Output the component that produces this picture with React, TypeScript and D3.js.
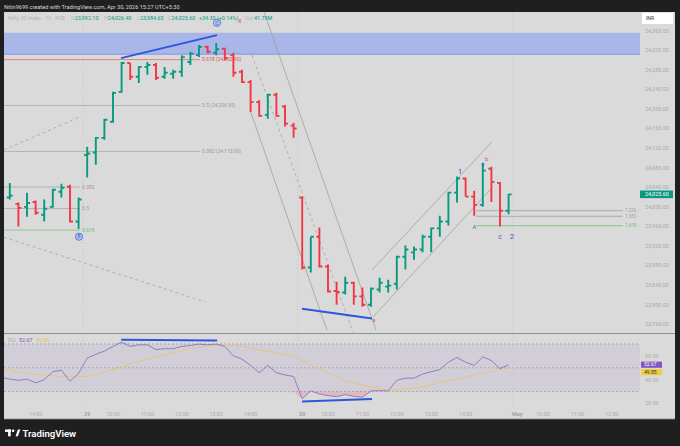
import React from 'react';
import * as d3 from 'd3';

// 15m bars, Apr 28 13:00 -> Apr 30 15:15 (k = 0..59)
const opens = [24008, 24019, 24006, 24000, 24010, 23984, 24000, 24031, 24041, 23970,
  24106, 24111, 24141, 24174, 24235, 24294, 24266, 24286, 24290, 24266,
  24272, 24276, 24296, 24310, 24327, 24315, 24323, 24310, 24276, 24255,
  24214, 24188, 24229, 24205, 24166, 24019, 23876, 23939, 23878, 23828,
  23825, 23845, 23817, 23800, 23831, 23837, 23843, 23898, 23907, 23913,
  23939, 23956, 23970, 24029, 24058, 24021, 24004, 24078, 24049, 23992.1];
const highs = [24026, 24049, 24009, 24029, 24013, 24015, 24037, 24047, 24045, 24019,
  24123, 24143, 24180, 24235, 24296, 24294, 24288, 24296, 24294, 24286,
  24280, 24310, 24317, 24331, 24329, 24335, 24325, 24315, 24280, 24259,
  24218, 24231, 24233, 24208, 24172, 24021, 23939, 23958, 23882, 23847,
  23857, 23847, 23835, 23835, 23855, 23851, 23900, 23921, 23919, 23943,
  23958, 23982, 24031, 24062, 24060, 24033, 24090, 24082, 24051, 24026.4];
const lows = [24002, 24015, 23960, 23980, 23984, 23970, 23998, 24019, 23968, 23955,
  24060, 24086, 24137, 24172, 24233, 24259, 24253, 24270, 24259, 24262,
  24262, 24266, 24290, 24306, 24314, 24310, 24300, 24266, 24253, 24194,
  24184, 24180, 24184, 24164, 24141, 23872, 23866, 23876, 23825, 23800,
  23821, 23800, 23796, 23796, 23825, 23825, 23831, 23872, 23892, 23907,
  23907, 23939, 23962, 24009, 24021, 23982, 24000, 24010, 23960, 23984.65];
const closes = [24019, 24023, 23998, 24008, 23988, 23996, 24035, 24039, 23970, 24015,
  24109, 24141, 24178, 24233, 24294, 24266, 24286, 24290, 24264, 24274,
  24276, 24306, 24313, 24327, 24317, 24322, 24304, 24274, 24255, 24214,
  24186, 24229, 24186, 24170, 24160, 23876, 23939, 23878, 23827, 23826,
  23845, 23817, 23800, 23833, 23845, 23839, 23898, 23913, 23913, 23939,
  23956, 23970, 24029, 24058, 24021, 24004, 24074, 24051, 23992, 24025.6];

const rsi = [42, 40.5, 39.5, 40.5, 37.3, 40, 46.7, 48, 38.7, 45.3,
  58.2, 61.3, 64, 68, 71.5, 68, 69.3, 69.3, 65.3, 66.1,
  66, 68, 68.8, 69.9, 69.3, 69.9, 68, 60, 57.3, 52,
  45.9, 52, 45.9, 44, 42.7, 24, 30.6, 28, 26.6, 25.8,
  27.5, 26, 25.3, 30.6, 30.8, 30.6, 39.5, 41.3, 41.3, 44.8,
  46.7, 48.5, 54.7, 58.7, 54.7, 52, 59.2, 56, 49.3, 52.67];
const rsiMa = [50, 48, 46.6, 45.5, 44.5, 44, 43.5, 42.8, 42.6, 42.6,
  42.8, 44.5, 46.5, 48.5, 50.5, 53, 55.5, 57.5, 59, 61,
  62.5, 64, 66, 67.5, 68.8, 69.3, 69.3, 69, 68, 66.5,
  65, 64, 62.5, 61, 60, 56.5, 52.5, 49, 45.5, 42.5,
  39.5, 37, 35.5, 34, 32.5, 31.2, 31.5, 32, 33, 34.2,
  35.5, 37.5, 39, 40.5, 42, 43.8, 45.5, 47, 48.8, 49.85];

const timeTicks = [
  { k: 4, label: '14:00' }, { k: 10, label: '29', day: true }, { k: 13, label: '10:00' },
  { k: 17, label: '11:00' }, { k: 21, label: '12:00' }, { k: 25, label: '13:00' },
  { k: 29, label: '14:00' }, { k: 35, label: '30', day: true }, { k: 38, label: '10:00' },
  { k: 42, label: '11:00' }, { k: 46, label: '12:00' }, { k: 50, label: '13:00' },
  { k: 54, label: '14:00' }, { k: 60, label: 'May', day: true }, { k: 63, label: '10:00' },
  { k: 67, label: '11:00' }, { k: 71, label: '12:00' },
];
const priceTicks = [24360, 24320, 24280, 24240, 24200, 24160, 24120, 24080, 24040,
  24000, 23960, 23920, 23880, 23840, 23800, 23760];
const rsiTicks = [60, 40, 20];
const rsiBands = [70, 50, 30];
const sessionBreaks = [9.5, 34.5, 59.5];

// drawings (bar index, price)
const zone = { k1: -2, k2: 74.3, top: 24355, bottom: 24312 };
const fibUpper = [
  { label: '0.618 (24,300.90)', price: 24300.9, color: '#e0525c' },
  { label: '0.5 (24,206.95)', price: 24206.95, color: '#9a9a9a' },
  { label: '0.382 (24,113.00)', price: 24113, color: '#9a9a9a' },
];
const fibLower = [
  { label: '0.382', price: 24040.5, color: '#9a9a9a' },
  { label: '0.5', price: 23996.5, color: '#9a9a9a' },
  { label: '0.618', price: 23952.5, color: '#6fbf73' },
];
const fibExt = [
  { label: '1.236', price: 23992.2, color: '#a0a0a0' },
  { label: '1.382', price: 23980.7, color: '#a0a0a0' },
  { label: '1.618', price: 23961.5, color: '#6fbf73' },
];
const channelLines = [
  { k1: 30.56, p1: 24398, k2: 43.58, p2: 23748, dash: '' },
  { k1: 29.16, p1: 24310, k2: 40.9, p2: 23744, dash: '3,3' },
  { k1: 28.93, p1: 24198, k2: 37.88, p2: 23748, dash: '' },
  { k1: 43.12, p1: 23871, k2: 57.07, p2: 24133, dash: '' },
  { k1: 43.23, p1: 23775, k2: 57.07, p2: 24039, dash: '' },
  { k1: 0.33, p1: 24116, k2: 9.16, p2: 24184, dash: '3,3' },
  { k1: 0.33, p1: 23938, k2: 23.7, p2: 23806, dash: '3,3' },
];
const priceDivergence = [
  { k1: 13.93, p1: 24304, k2: 25.09, p2: 24351 },
  { k1: 34.98, p1: 23792, k2: 43.12, p2: 23772 },
];
const rsiDivergence = [
  { k1: 13.95, v1: 73.5, k2: 25.1, v2: 73.0 },
  { k1: 34.98, v1: 21.7, k2: 43.12, v2: 23.7 },
];
const waveLabels = [
  { k: 53.35, price: 24073, text: '1', color: '#3d5bd6', size: 8 },
  { k: 56.0, price: 24087, text: 'a', color: '#3d5bd6', size: 5 },
  { k: 56.45, price: 24098, text: 'b', color: '#e0525c', size: 6 },
  { k: 55.0, price: 23959, text: 'A', color: '#3d5bd6', size: 5.5 },
  { k: 58.0, price: 23939, text: 'c', color: '#3d5bd6', size: 7 },
  { k: 59.4, price: 23941, text: '2', color: '#3d5bd6', size: 8 },
  { k: 43.35, price: 23769, text: 'a', color: '#e0525c', size: 5.5 },
  { k: 27.75, price: 24381, text: 'x', color: '#e0525c', size: 6.5 },
];
const circleMarks = [
  { k: 25.09, price: 24376, text: 'C' },
  { k: 9.05, price: 23939, text: 'B' },
];

const GREEN = '#089981';
const RED = '#f23645';
const FONT = "Roboto, 'Noto Sans', sans-serif";
const L = 4, R = 640, AX = 675, TOP = 12, MAIN_B = 333, RSI_T = 334, RSI_B = 406, BOT = 419;

export default function App() {
  const x = d3.scaleLinear().domain([0, 59]).range([1.2, 508.6]);
  const y = d3.scaleLinear().domain([23760, 24360]).range([324.3, 30.7]);
  const ry = d3.scaleLinear().domain([30, 70]).range([391.6, 344]);
  const fmt = d3.format(',.2f');
  const idx = d3.range(opens.length);

  const rsiPath = d3.line<number>().x(i => x(i)).y(i => ry(rsi[i]))(idx);
  const maPath = d3.line<number>().x(i => x(i)).y(i => ry(rsiMa[i]))(idx);
  const oversold = d3.area<number>().x(i => x(i)).y0(ry(30)).y1(i => ry(Math.min(rsi[i], 30)))(idx);
  const overbought = d3.area<number>().x(i => x(i)).y0(ry(70)).y1(i => ry(Math.max(rsi[i], 70)))(idx);

  const last = closes[closes.length - 1];

  return (
    <svg width={680} height={446} style={{ position: 'fixed', left: 0, top: 0, fontFamily: FONT }}>
      <defs>
        <clipPath id="mainClip"><rect x={L} y={TOP} width={R - L} height={MAIN_B - TOP} /></clipPath>
        <clipPath id="rsiClip"><rect x={L} y={RSI_T} width={R - L} height={RSI_B - RSI_T} /></clipPath>
      </defs>
      <rect width={680} height={446} fill="#1f1f1f" />
      <text x={4} y={8.5} fontSize={5.6} fill="#d8d8d8">Nitin9699 created with TradingView.com, Apr 30, 2026 15:27 UTC+5:30</text>

      {/* chart frame */}
      <rect x={L} y={TOP} width={AX - L} height={BOT - TOP} fill="#dadada" />

      {/* main pane */}
      <g clipPath="url(#mainClip)">
        {sessionBreaks.map(k => (
          <line key={k} x1={x(k)} x2={x(k)} y1={TOP} y2={MAIN_B} stroke="#c6c6c6" strokeDasharray="1,2" />
        ))}
        <rect x={Math.max(L, x(zone.k1))} y={y(zone.top)} width={x(zone.k2) - Math.max(L, x(zone.k1))}
          height={y(zone.bottom) - y(zone.top)} fill="#a8b7e8" />
        <line x1={L} x2={x(zone.k2)} y1={y(zone.bottom)} y2={y(zone.bottom)} stroke="#7f96e2" strokeWidth={1} />
        <line x1={L} x2={x(zone.k2)} y1={y(zone.top)} y2={y(zone.top)} stroke="#9fb0e6" strokeWidth={0.6} />

        {fibUpper.map(f => (
          <g key={f.label}>
            <line x1={L} x2={200} y1={y(f.price)} y2={y(f.price)} stroke={f.color} strokeWidth={0.8} opacity={0.8} />
            <text x={202} y={y(f.price) + 1.8} fontSize={5} fill={f.color}>{f.label}</text>
          </g>
        ))}
        {fibLower.map(f => (
          <g key={f.label}>
            <line x1={L} x2={80} y1={y(f.price)} y2={y(f.price)} stroke={f.color} strokeWidth={0.8} opacity={0.8} />
            <text x={82} y={y(f.price) + 1.8} fontSize={5} fill={f.color}>{f.label}</text>
          </g>
        ))}
        {fibExt.map(f => (
          <g key={f.label}>
            <line x1={x(55.2)} x2={x(72.3)} y1={y(f.price)} y2={y(f.price)} stroke={f.color} strokeWidth={0.8} />
            <text x={x(72.3) + 2} y={y(f.price) + 1.6} fontSize={4.5} fill={f.color}>{f.label} -</text>
          </g>
        ))}

        {channelLines.map((c, i) => (
          <line key={i} x1={x(c.k1)} y1={y(c.p1)} x2={x(c.k2)} y2={y(c.p2)}
            stroke="#9a9a9a" strokeWidth={0.7} strokeDasharray={c.dash || undefined} />
        ))}

        {idx.map(i => {
          const xi = x(i);
          const up = closes[i] >= opens[i];
          return (
            <path key={i}
              d={`M${xi},${y(highs[i])}V${y(lows[i])}M${xi - 3},${y(opens[i])}H${xi}M${xi},${y(closes[i])}H${xi + 3}`}
              stroke={up ? GREEN : RED} strokeWidth={1.9} fill="none" />
          );
        })}

        {priceDivergence.map((d, i) => (
          <line key={i} x1={x(d.k1)} y1={y(d.p1)} x2={x(d.k2)} y2={y(d.p2)} stroke="#2f55e0" strokeWidth={2} />
        ))}

        {waveLabels.map((w, i) => (
          <text key={i} x={x(w.k)} y={y(w.price) + w.size * 0.35} fontSize={w.size} fill={w.color} textAnchor="middle">{w.text}</text>
        ))}
        {circleMarks.map(c => (
          <g key={c.text}>
            <circle cx={x(c.k)} cy={y(c.price)} r={3.6} fill="#b3c2f0" stroke="#3d5bd6" strokeWidth={0.7} />
            <text x={x(c.k)} y={y(c.price) + 1.7} fontSize={4.8} fill="#3d5bd6" textAnchor="middle">{c.text}</text>
          </g>
        ))}
      </g>

      {/* legend */}
      <g fontSize={5.4}>
        <text x={8} y={19.5} fill="#b4b4b4">Nifty 50 Index · 15 · NSE</text>
        <text x={71} y={19.5} fill="#b4b4b4">O<tspan fill={GREEN}>{fmt(opens[59])}</tspan></text>
        <text x={104} y={19.5} fill="#b4b4b4">H<tspan fill={GREEN}>{fmt(highs[59])}</tspan></text>
        <text x={137} y={19.5} fill="#b4b4b4">L<tspan fill={GREEN}>{fmt(lows[59])}</tspan></text>
        <text x={168} y={19.5} fill="#b4b4b4">C<tspan fill={GREEN}>{fmt(closes[59])}</tspan></text>
        <text x={199} y={19.5} fill={GREEN}>+34.30 (+0.14%)</text>
        <text x={245} y={19.5} fill="#b4b4b4">Vol <tspan fill={GREEN}>41.79M</tspan></text>
      </g>

      {/* price axis */}
      {priceTicks.map(p => (
        <text key={p} x={645} y={y(p) + 1.9} fontSize={5.4} fill="#a8a8a8">{fmt(p)}</text>
      ))}
      <rect x={642} y={12.7} width={31} height={11.3} fill="#ffffff" />
      <text x={646} y={20.2} fontSize={5} fill="#333">INR</text>
      <rect x={640} y={y(last) - 3.8} width={33} height={7.6} fill={GREEN} />
      <text x={645} y={y(last) + 1.9} fontSize={5.4} fill="#ffffff">{fmt(last)}</text>

      {/* pane separator */}
      <line x1={L} x2={AX} y1={MAIN_B + 0.5} y2={MAIN_B + 0.5} stroke="#8e8e8e" strokeWidth={1} />

      {/* RSI pane */}
      <rect x={L} y={ry(70)} width={R - L} height={ry(30) - ry(70)} fill="#7e57c2" opacity={0.09} />
      {rsiBands.map(b => (
        <line key={b} x1={L} x2={R} y1={ry(b)} y2={ry(b)} stroke="#a09aa8" strokeWidth={0.8} strokeDasharray="2,2" />
      ))}
      <g clipPath="url(#rsiClip)">
        {sessionBreaks.map(k => (
          <line key={k} x1={x(k)} x2={x(k)} y1={RSI_T} y2={BOT} stroke="#c6c6c6" strokeDasharray="1,2" />
        ))}
        <path d={oversold ?? ''} fill="#f23645" opacity={0.18} />
        <path d={overbought ?? ''} fill="#089981" opacity={0.18} />
        <path d={maPath ?? ''} fill="none" stroke="#f3c23c" strokeWidth={1} opacity={0.6} />
        <path d={rsiPath ?? ''} fill="none" stroke="#8a73c6" strokeWidth={0.9} />
        {rsiDivergence.map((d, i) => (
          <line key={i} x1={x(d.k1)} y1={ry(d.v1)} x2={x(d.k2)} y2={ry(d.v2)} stroke="#2f55e0" strokeWidth={2} />
        ))}
      </g>
      <g fontSize={5.4}>
        <text x={8} y={341.5} fill="#b4b4b4">RSI</text>
        <text x={19} y={341.5} fill="#7e57c2">{rsi[59].toFixed(2)}</text>
        <text x={36} y={341.5} fill="#f3c23c">{rsiMa[59].toFixed(2)}</text>
      </g>
      {rsiTicks.map(t => (
        <text key={t} x={645} y={ry(t) + 1.9} fontSize={5.4} fill="#ababab">{t.toFixed(2)}</text>
      ))}
      <rect x={641} y={361.6} width={21} height={6.2} fill="#7e57c2" />
      <text x={644} y={366.4} fontSize={5} fill="#ffffff">{rsi[59].toFixed(2)}</text>
      <rect x={641} y={369} width={21} height={6.2} fill="#f5cd3a" />
      <text x={644} y={373.8} fontSize={5} fill="#333">{rsiMa[59].toFixed(2)}</text>

      {/* time axis */}
      {timeTicks.map(t => (
        <text key={t.k} x={x(t.k)} y={415.5} fontSize={5.4} textAnchor="middle"
          fill={t.day ? '#9c9c9c' : '#ababab'} fontWeight={t.day ? 600 : 400}>{t.label}</text>
      ))}
      <line x1={L} x2={AX} y1={BOT} y2={BOT} stroke="#8e8e8e" strokeWidth={0.8} />

      {/* logo */}
      <g fill="#ffffff">
        <rect x={5} y={429.5} width={6} height={2.4} />
        <rect x={8.1} y={429.5} width={2.6} height={6.8} />
        <circle cx={13.1} cy={430.8} r={1.3} />
        <path d="M15.6,436.3 L17.9,429.5 L20.3,429.5 L17.9,436.3 Z" />
        <text x={22.5} y={436.6} fontSize={9.6} fontWeight={600}>TradingView</text>
      </g>
    </svg>
  );
}
